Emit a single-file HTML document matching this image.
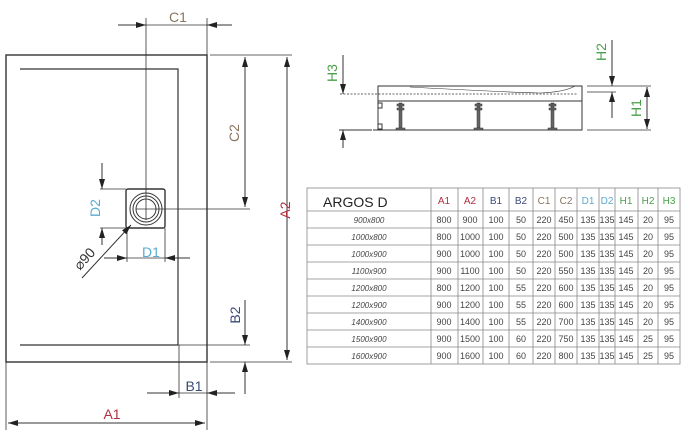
<!DOCTYPE html>
<html><head><meta charset="utf-8"><style>
html,body{margin:0;padding:0;background:#fff;}
svg{display:block;font-family:"Liberation Sans",sans-serif;}
</style></head><body>
<svg width="688" height="441" viewBox="0 0 688 441" xmlns="http://www.w3.org/2000/svg">
<defs>
<marker id="a" viewBox="0 0 10 6" refX="10" refY="3" markerWidth="10" markerHeight="6" markerUnits="userSpaceOnUse" orient="auto-start-reverse"><path d="M0,0 L10,3 L0,6 z" fill="#222"/></marker>
</defs>
<g stroke="#333" fill="none" stroke-width="1">
<rect x="6" y="55" width="201" height="307" stroke-width="1.4"/>
<path d="M20 69 H178 V345 M20 345 H178" stroke-width="1.2"/>
<rect x="126" y="189" width="39" height="39" rx="2" stroke-width="1.4"/>
<circle cx="146" cy="209" r="16"/><circle cx="146" cy="209" r="13"/><circle cx="146" cy="209" r="10"/>
<path d="M146 18 V220 M136 209 H250 M207 18 V55" stroke-width="0.8"/>
<line x1="118" y1="25" x2="146" y2="25" marker-end="url(#a)"/>
<line x1="232" y1="25" x2="207" y2="25" marker-end="url(#a)"/>
<path d="M146 25 H207" stroke-width="0.8"/>
<path d="M210 55 H292 M210 362 H292 M178 345 H250" stroke-width="0.8"/>
<line x1="245" y1="57" x2="245" y2="207" marker-start="url(#a)" marker-end="url(#a)"/>
<line x1="287" y1="57" x2="287" y2="360" marker-start="url(#a)" marker-end="url(#a)"/>
<path d="M100 189 H126 M100 228 H126 M127 228 V262 M165 228 V262 M179 345 V398 M207 362 V430 M6 362 V430" stroke-width="0.8"/>
<line x1="102" y1="163" x2="102" y2="189" marker-end="url(#a)"/>
<line x1="102" y1="245" x2="102" y2="228" marker-end="url(#a)"/>
<line x1="104" y1="258" x2="127" y2="258" marker-end="url(#a)"/>
<path d="M127 258 H165" stroke-width="0.8"/>
<line x1="190" y1="258" x2="165" y2="258" marker-end="url(#a)"/>
<line x1="82" y1="278" x2="131" y2="225" marker-end="url(#a)"/>
<line x1="245" y1="300" x2="245" y2="345" marker-end="url(#a)"/>
<line x1="245" y1="394" x2="245" y2="362" marker-end="url(#a)"/>
<line x1="147" y1="393" x2="179" y2="393" marker-end="url(#a)"/>
<line x1="235" y1="393" x2="207" y2="393" marker-end="url(#a)"/>
<path d="M179 393 H207" stroke-width="0.8"/>
<line x1="8" y1="423" x2="205" y2="423" marker-start="url(#a)" marker-end="url(#a)"/>
<rect x="378" y="86" width="204" height="15"/>
<path d="M378 101 V130 M373 130 H582 V101" />
<path d="M410 87 Q500 92 540 93 Q565 92 575 86" stroke-width="0.6"/>
<line x1="340" y1="94" x2="578" y2="94" stroke-dasharray="2,1.5" stroke-width="0.8"/>
<path d="M378 103 h4 v5 h-4 M378 124 h4 v5 h-4"/>
<line x1="339" y1="130" x2="372" y2="130"/>
<line x1="343" y1="55" x2="343" y2="94" marker-end="url(#a)"/>
<line x1="343" y1="148" x2="343" y2="130" marker-end="url(#a)"/>
<path d="M587 86 H651 M587 130 H651 M587 92 H616" stroke-width="0.8"/>
<line x1="612" y1="40" x2="612" y2="86" marker-end="url(#a)"/>
<line x1="612" y1="118" x2="612" y2="92" marker-end="url(#a)"/>
<line x1="647" y1="87" x2="647" y2="129" marker-start="url(#a)" marker-end="url(#a)"/>
</g>
<g fill="#666" stroke="#333" stroke-width="0.5">
<rect x="399" y="103" width="3" height="25"/><rect x="397" y="104" width="7" height="2"/><rect x="397" y="108" width="7" height="2"/><rect x="396" y="128" width="9" height="2"/>
<rect x="477" y="103" width="3" height="25"/><rect x="475" y="104" width="7" height="2"/><rect x="475" y="108" width="7" height="2"/><rect x="474" y="128" width="9" height="2"/>
<rect x="551" y="103" width="3" height="25"/><rect x="549" y="104" width="7" height="2"/><rect x="549" y="108" width="7" height="2"/><rect x="548" y="128" width="9" height="2"/>
</g>
<g font-size="14" text-anchor="middle">
<text x="178" y="22" fill="#8a7560">C1</text>
<text transform="translate(239,133) rotate(-90)" fill="#8a7560">C2</text>
<text transform="translate(290,210) rotate(-90)" fill="#b03040">A2</text>
<text transform="translate(100,208) rotate(-90)" fill="#5aaad0">D2</text>
<text x="151" y="257" fill="#5aaad0">D1</text>
<text transform="translate(88,262) rotate(-48)" fill="#333">⌀90</text>
<text transform="translate(240,315) rotate(-90)" fill="#3a4a7a">B2</text>
<text x="194" y="391" fill="#3a4a7a">B1</text>
<text x="112" y="419" fill="#b03040">A1</text>
<text transform="translate(337,73) rotate(-90)" fill="#4aa04a">H3</text>
<text transform="translate(606,52) rotate(-90)" fill="#4aa04a">H2</text>
<text transform="translate(641,108) rotate(-90)" fill="#4aa04a">H1</text>
</g>
<g stroke="#888" stroke-width="0.8" fill="none">
<rect x="307" y="188" width="373" height="176"/>
<path d="M307 211 H680 M307 228 H680 M307 245 H680 M307 262 H680 M307 279 H680 M307 296 H680 M307 313 H680 M307 330 H680 M307 347 H680"/>
<path d="M431 188 V364 M458 188 V364 M483 188 V364 M509 188 V364 M533 188 V364 M555 188 V364 M577 188 V364 M599 188 V364 M615 188 V364 M638 188 V364 M658 188 V364"/>
</g>
<g font-size="10" text-anchor="middle" fill="#444">
<text x="323" y="207" font-size="14" text-anchor="start" fill="#222">ARGOS D</text>
<text x="444" y="204" fill="#b03040">A1</text><text x="470" y="204" fill="#b03040">A2</text>
<text x="496" y="204" fill="#3a4a7a">B1</text><text x="521" y="204" fill="#3a4a7a">B2</text>
<text x="544" y="204" fill="#8a7560">C1</text><text x="566" y="204" fill="#8a7560">C2</text>
<text x="588" y="204" fill="#5aaad0">D1</text><text x="607" y="204" fill="#5aaad0">D2</text>
<text x="626" y="204" fill="#4aa04a">H1</text><text x="648" y="204" fill="#4aa04a">H2</text><text x="669" y="204" fill="#4aa04a">H3</text>
</g>
<g font-size="9" text-anchor="middle" fill="#444">
<g font-style="italic" font-size="8">
<text x="369" y="223">900x800</text><text x="369" y="240">1000x800</text><text x="369" y="257">1000x900</text>
<text x="369" y="274">1100x900</text><text x="369" y="291">1200x800</text><text x="369" y="308">1200x900</text>
<text x="369" y="325">1400x900</text><text x="369" y="342">1500x900</text><text x="369" y="359">1600x900</text>
</g>
<text x="444" y="223">800</text><text x="470" y="223">900</text><text x="496" y="223">100</text><text x="521" y="223">50</text><text x="544" y="223">220</text><text x="566" y="223">450</text><text x="588" y="223">135</text><text x="607" y="223">135</text><text x="626" y="223">145</text><text x="648" y="223">20</text><text x="669" y="223">95</text>
<text x="444" y="240">800</text><text x="470" y="240">1000</text><text x="496" y="240">100</text><text x="521" y="240">50</text><text x="544" y="240">220</text><text x="566" y="240">500</text><text x="588" y="240">135</text><text x="607" y="240">135</text><text x="626" y="240">145</text><text x="648" y="240">20</text><text x="669" y="240">95</text>
<text x="444" y="257">900</text><text x="470" y="257">1000</text><text x="496" y="257">100</text><text x="521" y="257">50</text><text x="544" y="257">220</text><text x="566" y="257">500</text><text x="588" y="257">135</text><text x="607" y="257">135</text><text x="626" y="257">145</text><text x="648" y="257">20</text><text x="669" y="257">95</text>
<text x="444" y="274">900</text><text x="470" y="274">1100</text><text x="496" y="274">100</text><text x="521" y="274">50</text><text x="544" y="274">220</text><text x="566" y="274">550</text><text x="588" y="274">135</text><text x="607" y="274">135</text><text x="626" y="274">145</text><text x="648" y="274">20</text><text x="669" y="274">95</text>
<text x="444" y="291">800</text><text x="470" y="291">1200</text><text x="496" y="291">100</text><text x="521" y="291">55</text><text x="544" y="291">220</text><text x="566" y="291">600</text><text x="588" y="291">135</text><text x="607" y="291">135</text><text x="626" y="291">145</text><text x="648" y="291">20</text><text x="669" y="291">95</text>
<text x="444" y="308">900</text><text x="470" y="308">1200</text><text x="496" y="308">100</text><text x="521" y="308">55</text><text x="544" y="308">220</text><text x="566" y="308">600</text><text x="588" y="308">135</text><text x="607" y="308">135</text><text x="626" y="308">145</text><text x="648" y="308">20</text><text x="669" y="308">95</text>
<text x="444" y="325">900</text><text x="470" y="325">1400</text><text x="496" y="325">100</text><text x="521" y="325">55</text><text x="544" y="325">220</text><text x="566" y="325">700</text><text x="588" y="325">135</text><text x="607" y="325">135</text><text x="626" y="325">145</text><text x="648" y="325">20</text><text x="669" y="325">95</text>
<text x="444" y="342">900</text><text x="470" y="342">1500</text><text x="496" y="342">100</text><text x="521" y="342">60</text><text x="544" y="342">220</text><text x="566" y="342">750</text><text x="588" y="342">135</text><text x="607" y="342">135</text><text x="626" y="342">145</text><text x="648" y="342">25</text><text x="669" y="342">95</text>
<text x="444" y="359">900</text><text x="470" y="359">1600</text><text x="496" y="359">100</text><text x="521" y="359">60</text><text x="544" y="359">220</text><text x="566" y="359">800</text><text x="588" y="359">135</text><text x="607" y="359">135</text><text x="626" y="359">145</text><text x="648" y="359">25</text><text x="669" y="359">95</text>
</g>
</svg>
</body></html>
